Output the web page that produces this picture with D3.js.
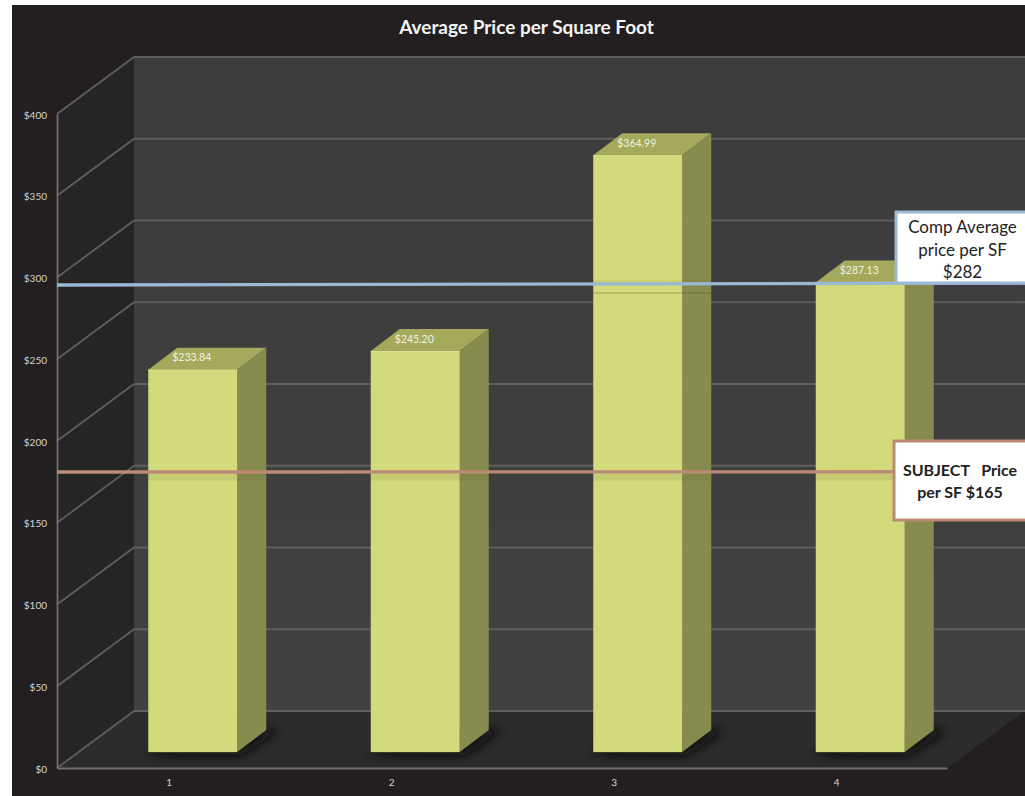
<!DOCTYPE html>
<html>
<head>
<meta charset="utf-8">
<script src="https://cdn.jsdelivr.net/npm/d3@7"></script>
<style>
    html, body { margin: 0; padding: 0; background: #fff; }
    svg { display: block; font-family: Lato, "Open Sans", sans-serif; }
</style>
</head>
<body>
<svg width="1025" height="796"></svg>
<script>
const categories = ["1", "2", "3", "4"];
const prices = [233.84, 245.20, 364.99, 287.13];
const priceLabels = ["$233.84", "$245.20", "$364.99", "$287.13"];
const yTicks = [0, 50, 100, 150, 200, 250, 300, 350, 400];

// left and right end of each reference line
const compLine = [295.4, 296.6];
const subjectLine = [181, 181.2];
const compText = ["Comp Average", "price per SF", "$282"];
const subjectText = ["SUBJECT   Price", "per SF $165"];
const titleText = "Average Price per Square Foot";

function drawGraph() {
    const svg = d3.select("svg");

    const area = { left: 57, right: 947, top: 114, bottom: 768, edge: 1025 };
    // the 3D look: how far the back wall and the bars are pushed
    const wall = { dx: 77, dy: -57 };
    const bar = { shiftX: 24.5, shiftY: -16, dx: 29, dy: -22 };

    const scaleX = d3.scaleBand().domain(categories).range([area.left, area.right]);
    const scaleY = d3.scaleLinear().domain([0, 400]).range([area.bottom, area.top]);

    const defs = svg.append("defs");
    defs.append("filter").attr("id", "blur")
        .attr("x", "-30%").attr("y", "-60%").attr("width", "160%").attr("height", "220%")
        .append("feGaussianBlur").attr("stdDeviation", 6);
    const wallFill = defs.append("linearGradient").attr("id", "wallFill")
        .attr("x1", 0).attr("y1", 0).attr("x2", 0).attr("y2", 1);
    wallFill.append("stop").attr("offset", 0).attr("stop-color", "#3b3b3b");
    wallFill.append("stop").attr("offset", 1).attr("stop-color", "#414141");

    // background
    svg.append("rect").attr("x", 12).attr("y", 5).attr("width", 1013).attr("height", 791)
        .style("fill", "#231f20");

    createWalls(svg, area, wall, scaleY);
    createBars(svg, area, bar, scaleX, scaleY);
    createAxis(svg, area, scaleX, scaleY);
    createNotes(svg, area, bar, scaleX, scaleY);

    svg.append("text")
        .attr("x", 526.5).attr("y", 34)
        .attr("text-anchor", "middle")
        .style("font-size", "19px").style("font-weight", 700).style("fill", "#f4f4f4")
        .text(titleText);
}

function createWalls(svg, area, wall, scaleY) {
    const line = d3.line();
    const backLeft = area.left + wall.dx;
    const topY = scaleY(400) + wall.dy;
    const floorY = scaleY(0) + wall.dy;

    // back wall
    svg.append("rect")
        .attr("x", backLeft).attr("y", topY)
        .attr("width", area.edge - backLeft).attr("height", floorY - topY)
        .style("fill", "url(#wallFill)");

    // left wall
    svg.append("path")
        .attr("d", line([[area.left, scaleY(400)], [backLeft, topY], [backLeft, floorY], [area.left, scaleY(0)]]) + "Z")
        .style("fill", "#252525");

    // floor
    svg.append("path")
        .attr("d", line([[area.left, scaleY(0)], [backLeft, floorY], [area.edge, floorY], [area.right, scaleY(0)]]) + "Z")
        .style("fill", "#2c2c2c");

    // grid on the back wall
    svg.selectAll(".grid")
        .data(yTicks)
        .enter()
        .append("line")
        .attr("x1", backLeft)
        .attr("x2", area.edge)
        .attr("y1", d => scaleY(d) + wall.dy)
        .attr("y2", d => scaleY(d) + wall.dy)
        .style("stroke", "#5f5f5f")
        .style("stroke-width", 1.8);

    // grid on the left wall
    svg.selectAll(".gridSide")
        .data(yTicks)
        .enter()
        .append("line")
        .attr("x1", area.left)
        .attr("x2", backLeft)
        .attr("y1", d => scaleY(d))
        .attr("y2", d => scaleY(d) + wall.dy)
        .style("stroke", "#5f5f5f")
        .style("stroke-width", 1.8);
}

function createBars(svg, area, bar, scaleX, scaleY) {
    const line = d3.line();
    const barWidth = scaleX.bandwidth() * 0.4;
    const left = d => scaleX(d.cat) + scaleX.bandwidth() / 2 + bar.shiftX - barWidth / 2;
    const top = d => scaleY(d.value) + bar.shiftY;
    const base = scaleY(0) + bar.shiftY;
    const data = categories.map((c, i) => ({ cat: c, value: prices[i], label: priceLabels[i] }));

    // shadow on the floor
    svg.selectAll(".shadow")
        .data(data)
        .enter()
        .append("path")
        .attr("d", d => line([
            [left(d) - 8, base + 3],
            [left(d) + barWidth + 4, base + 3],
            [left(d) + barWidth + bar.dx + 14, base + bar.dy],
            [left(d) + barWidth, base + bar.dy]
        ]) + "Z")
        .style("fill", "#111")
        .style("filter", "url(#blur)");

    // top face
    svg.selectAll(".barTop")
        .data(data)
        .enter()
        .append("path")
        .attr("d", d => line([
            [left(d), top(d)],
            [left(d) + bar.dx, top(d) + bar.dy],
            [left(d) + barWidth + bar.dx, top(d) + bar.dy],
            [left(d) + barWidth, top(d)]
        ]) + "Z")
        .style("fill", "#a4a95b");

    // side face
    svg.selectAll(".barSide")
        .data(data)
        .enter()
        .append("path")
        .attr("d", d => line([
            [left(d) + barWidth, top(d)],
            [left(d) + barWidth + bar.dx, top(d) + bar.dy],
            [left(d) + barWidth + bar.dx, base + bar.dy],
            [left(d) + barWidth, base]
        ]) + "Z")
        .style("fill", "#878c4e");

    // front face
    svg.selectAll(".barFront")
        .data(data)
        .enter()
        .append("rect")
        .attr("x", left)
        .attr("y", top)
        .attr("width", barWidth)
        .attr("height", d => base - top(d))
        .style("fill", "#d2da7b");

    // dark edge at the foot of the bar
    svg.selectAll(".barFoot")
        .data(data)
        .enter()
        .append("line")
        .attr("x1", left)
        .attr("x2", d => left(d) + barWidth)
        .attr("y1", base + 0.5)
        .attr("y2", base + 0.5)
        .style("stroke", "#3a3b1c")
        .style("stroke-width", 1);

    // lighter edge where front meets top
    svg.selectAll(".barEdge")
        .data(data)
        .enter()
        .append("line")
        .attr("x1", left)
        .attr("x2", d => left(d) + barWidth)
        .attr("y1", d => top(d) + 0.5)
        .attr("y2", d => top(d) + 0.5)
        .style("stroke", "#dde48f")
        .style("stroke-width", 1);

    // value labels on the top face
    svg.selectAll(".barLabel")
        .data(data)
        .enter()
        .append("text")
        .attr("x", d => left(d) + barWidth / 2 - 1)
        .attr("y", d => top(d) - 8.5)
        .attr("text-anchor", "middle")
        .style("font-size", "10.5px")
        .style("fill", "#f2f2e4")
        .text(d => d.label);
}

function createAxis(svg, area, scaleX, scaleY) {
    const axisY = d3.axisLeft(scaleY)
        .tickValues(yTicks)
        .tickSize(0)
        .tickPadding(10)
        .tickFormat(d => "$" + d);
    const axisX = d3.axisBottom(scaleX).tickSize(0).tickPadding(11);

    const gY = svg.append("g").attr("transform", `translate(${area.left}, 0)`).call(axisY);
    const gX = svg.append("g").attr("transform", `translate(0, ${area.bottom})`).call(axisX);

    [gY, gX].forEach(g => {
        g.selectAll("path").style("stroke", "#6e6e6e").style("stroke-width", 1.8);
        g.selectAll("text")
            .style("font-family", "Lato, sans-serif")
            .style("font-size", "10px")
            .style("fill", "#d4d4d4");
    });
    gY.selectAll("text").attr("dy", "0.4em");
    gX.selectAll("text").attr("dx", "0.1em");
}

function createNotes(svg, area, bar, scaleX, scaleY) {
    const barWidth = scaleX.bandwidth() * 0.4;
    const data = categories.map((c, i) => ({ cat: c, value: prices[i] }));

    // the pale band each line leaves on the bars it crosses
    const drawBand = (value, from, to, shade) => {
        svg.selectAll(null)
            .data(data.filter(d => d.value > value))
            .enter()
            .append("rect")
            .attr("x", d => scaleX(d.cat) + scaleX.bandwidth() / 2 + bar.shiftX - barWidth / 2)
            .attr("y", scaleY(value) + from)
            .attr("width", barWidth + bar.dx)
            .attr("height", to - from)
            .style("fill", "#4a4a20")
            .style("opacity", shade);
    };

    const drawNote = (values, lines, color, box, textAttr) => {
        svg.append("line")
            .attr("x1", area.left)
            .attr("x2", area.edge)
            .attr("y1", scaleY(values[0]))
            .attr("y2", scaleY(values[1]))
            .style("stroke", color)
            .style("stroke-width", 3.4);

        svg.append("rect")
            .attr("x", box.x).attr("y", box.y)
            .attr("width", box.width).attr("height", box.height)
            .style("fill", "#fff")
            .style("stroke", color)
            .style("stroke-width", 3);

        svg.selectAll(null)
            .data(lines)
            .enter()
            .append("text")
            .attr("x", textAttr.x)
            .attr("y", (d, i) => textAttr.y + i * textAttr.step)
            .attr("text-anchor", "middle")
            .attr("xml:space", "preserve")
            .style("white-space", "pre")
            .style("font-size", textAttr.size)
            .style("font-weight", textAttr.weight)
            .style("fill", "#222")
            .text(d => d);
    };

    drawBand(compLine[0], 7.5, 8.5, 0.4);
    drawBand(compLine[0], -5, 0, 0.06);
    drawBand(subjectLine[0], 2, 8.5, 0.1);

    drawNote(compLine, compText, "#9bb8d4",
        { x: 896, y: 212, width: 135, height: 71 },
        { x: 962.5, y: 233, step: 22.5, size: "17px", weight: 400 });
    drawNote(subjectLine, subjectText, "#b98a76",
        { x: 894, y: 441, width: 137, height: 79 },
        { x: 960, y: 476, step: 22, size: "16px", weight: 700 });
}

drawGraph();
</script>
</body>
</html>
